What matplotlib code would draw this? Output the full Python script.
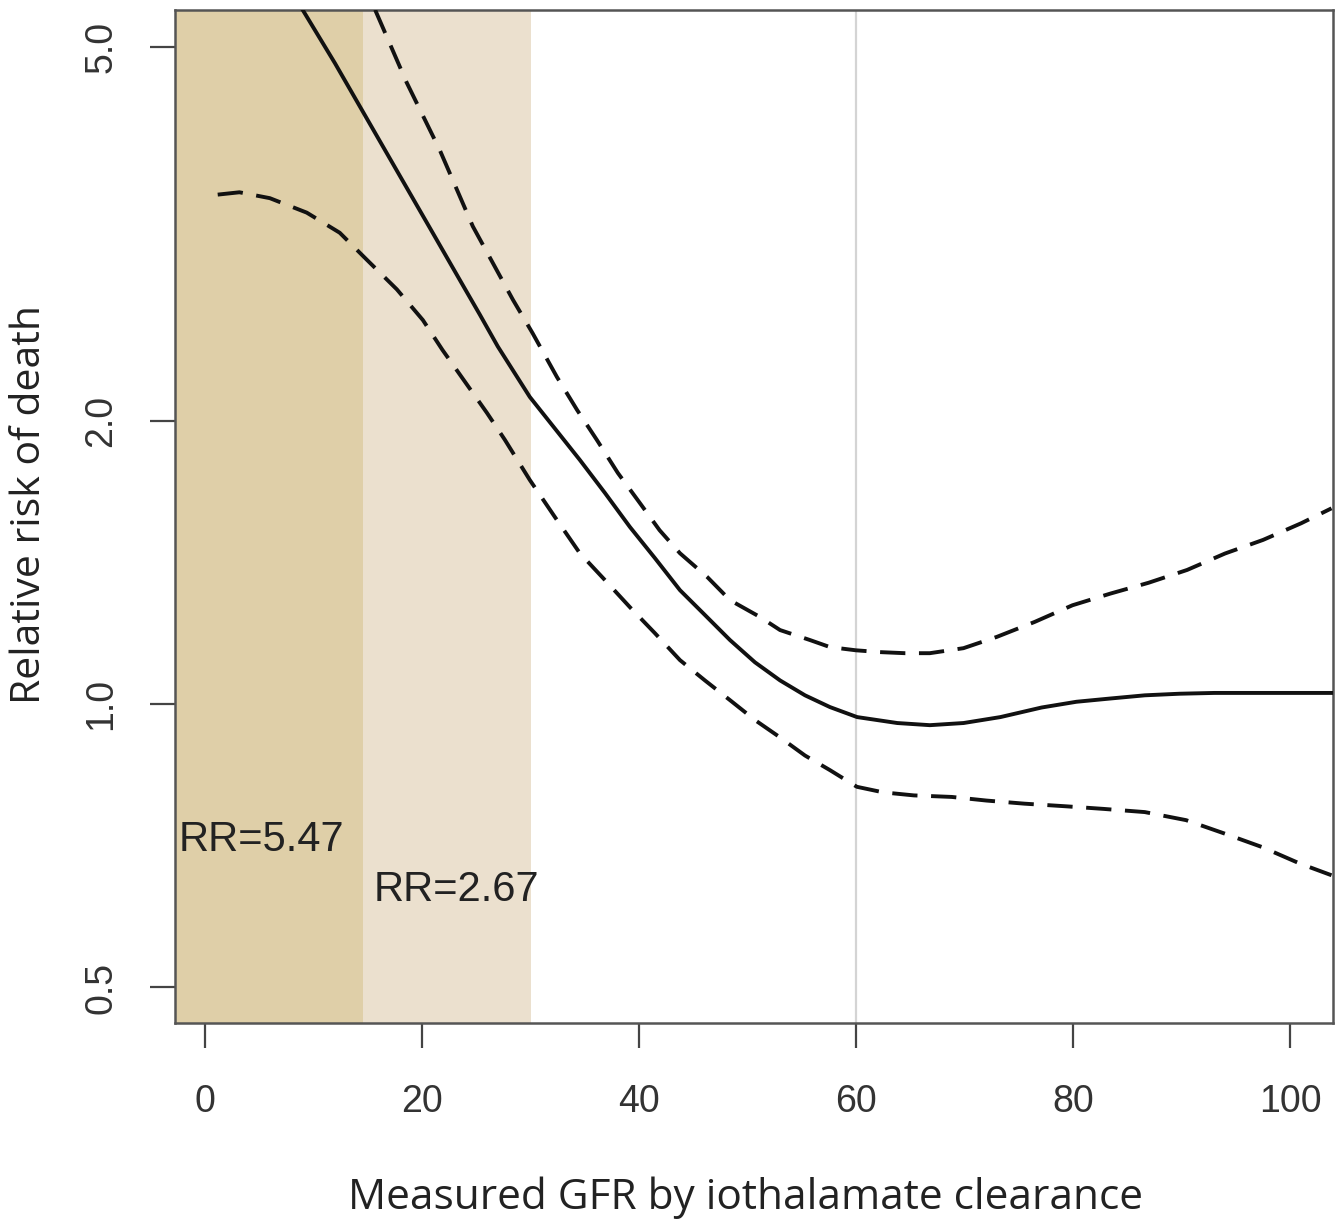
import matplotlib.pyplot as plt

# values (x = GFR, y = relative risk)
solid_x = [8.94, 12, 15, 18, 21, 24, 25.35, 27, 29.95, 34.56, 36.87, 39.17, 41.47, 43.78,
           46.08, 48.39, 50.69, 53.0, 55.3, 57.6, 60.1, 63.8, 66.8, 69.9, 73.3, 77.1,
           80.3, 83.4, 86.6, 89.8, 93.0, 103.8]
solid_y = [5.49, 4.80, 4.18, 3.64, 3.17, 2.76, 2.594, 2.40, 2.121, 1.818, 1.677, 1.543,
           1.43, 1.322, 1.244, 1.170, 1.108, 1.060, 1.022, 0.993, 0.969, 0.955, 0.950,
           0.955, 0.969, 0.992, 1.006, 1.014, 1.022, 1.026, 1.028, 1.028]

upper_x = [15.7, 18.6, 21.66, 24.7, 28.39, 30.2, 32.44, 34.3, 36.13, 38.06, 40.09, 41.9,
           43.78, 46.3, 48.39, 51.15, 53.0, 55.76, 57.6, 60.0, 62.2, 64.5, 66.8, 69.9,
           72.96, 76.45, 79.94, 83.44, 86.94, 90.5, 93.99, 97.5, 101.0, 103.8]
upper_y = [5.47, 4.58, 3.88, 3.22, 2.691, 2.48, 2.228, 2.055, 1.909, 1.761, 1.636, 1.531,
           1.447, 1.365, 1.290, 1.238, 1.199, 1.17, 1.150, 1.141, 1.136, 1.133, 1.133,
           1.147, 1.179, 1.223, 1.274, 1.311, 1.346, 1.389, 1.446, 1.495, 1.557, 1.615]

lower_x = [1.2, 3.2, 6.0, 9.4, 12.44, 14.9, 17.7, 20.1, 21.9, 26.0, 27.65, 29.95, 32.26,
           34.56, 36.87, 39.17, 41.47, 43.78, 46.08, 48.39, 50.69, 53.0, 55.3, 57.6, 60.08,
           62.5, 65.33, 68.82, 72.0, 75.5, 79.3, 82.8, 86.6, 90.4, 93.9, 97.4, 100.9, 103.8]
lower_y = [3.48, 3.50, 3.45, 3.33, 3.17, 2.97, 2.76, 2.56, 2.38, 2.04, 1.91, 1.731, 1.581,
           1.447, 1.355, 1.268, 1.19, 1.114, 1.06, 1.010, 0.962, 0.922, 0.882, 0.851, 0.817,
           0.806, 0.800, 0.797, 0.790, 0.784, 0.779, 0.774, 0.768, 0.753, 0.729, 0.705,
           0.677, 0.658]

band_edges = [-5, 14.6, 30.1]
band_colors = ["#dfcfa8", "#ebe0ce"]
rr_text = ["RR=5.47", "RR=2.67"]
rr_x = [-2.4, 15.6]
rr_y = [0.717, 0.634]
xticks = [0, 20, 40, 60, 80, 100]
yticks = [0.5, 1.0, 2.0, 5.0]
ytick_labels = ["0.5", "1.0", "2.0", "5.0"]

fig = plt.figure(figsize=(13.44, 12.27), dpi=100)
ax = fig.add_axes([0.130, 0.166, 0.862, 0.826])
ax.set_yscale("log")
ax.set_xlim(-2.76, 103.96)
ax.set_ylim(0.458, 5.47)

for i, c in enumerate(band_colors):
    ax.axvspan(band_edges[i], band_edges[i + 1], color=c, lw=0, zorder=0)
ax.axvline(60, color="#d4d4d4", lw=1.6, zorder=1)

ax.plot(solid_x, solid_y, color="#111111", lw=2.8, zorder=3, solid_joinstyle="round")
for xs, ys in [(upper_x, upper_y), (lower_x, lower_y)]:
    ax.plot(xs, ys, color="#111111", lw=2.8, linestyle=(0, (6.5, 3.5)), zorder=3)

for txt, x, y in zip(rr_text, rr_x, rr_y):
    ax.text(x, y, txt, fontsize=30, family="Liberation Sans", color="#222222",
            ha="left", va="center", zorder=4)

ax.set_xticks(xticks)
ax.set_xticklabels([str(t) for t in xticks], family="Liberation Sans", fontsize=27,
                   color="#333333")
ax.set_yticks(yticks)
ax.set_yticklabels(ytick_labels, family="Liberation Sans", fontsize=27, color="#333333",
                   rotation=90, va="center")
ax.minorticks_off()
ax.tick_params(axis="both", direction="out", length=18, width=1.6, color="#444444")
ax.tick_params(axis="x", pad=26)
ax.tick_params(axis="y", pad=22)

for s in ax.spines.values():
    s.set_color("#555555")
    s.set_linewidth(1.8)

fig.text(746 / 1344, 1 - 1198 / 1227, "Measured GFR by iothalamate clearance",
         fontsize=30.5, family="Open Sans", color="#222222", ha="center", va="center")
fig.text(30 / 1344, 1 - 504 / 1227, "Relative risk of death", fontsize=29.5,
         family="Open Sans", color="#222222", ha="center", va="center", rotation=90)

fig.savefig("out.png", dpi=100)
